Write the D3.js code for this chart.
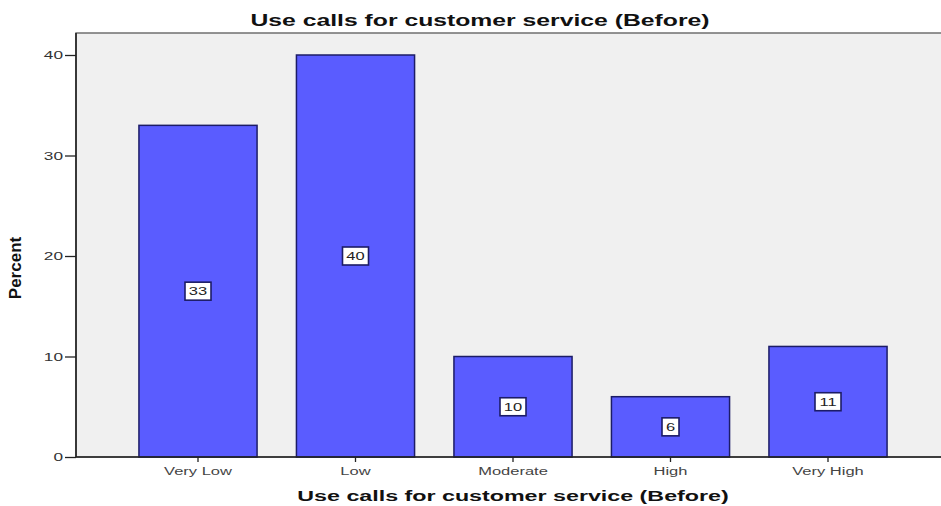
<!DOCTYPE html>
<html>
<head>
<meta charset="utf-8">
<script src="https://cdn.jsdelivr.net/npm/d3@7"></script>
<style>
  html, body { margin: 0; padding: 0; background: #fff; }
  svg { display: block; }
</style>
</head>
<body>
<svg id="chart" width="941" height="506"></svg>
<script>
// Percent of respondents by level of use
const categories = ["Very Low", "Low", "Moderate", "High", "Very High"];
const percents = [33, 40, 10, 6, 11];
const yTicks = [0, 10, 20, 30, 40];
const chartTitle = "Use calls for customer service (Before)";
const xTitle = "Use calls for customer service (Before)";
const yTitle = "Percent";

const svg = d3.select("#chart");
const plot = { left: 76, top: 33, right: 960, bottom: 457 };
const FONT = "Liberation Sans, Arial, sans-serif";
const SX = 1.5; // horizontal stretch applied to horizontal text

const x = d3.scaleBand()
  .domain(categories)
  .range([119.25, 906.75])
  .paddingInner(0.25)
  .paddingOuter(0.125);

const y = d3.scaleLinear()
  .domain([0, 40])
  .range([plot.bottom, 55]);

// plot background
svg.append("rect")
  .attr("x", plot.left).attr("y", plot.top)
  .attr("width", plot.right - plot.left).attr("height", plot.bottom - plot.top)
  .attr("fill", "#f0f0f0")
  .attr("stroke", "#666").attr("stroke-width", 1.4);

// bars
svg.append("g").selectAll("rect")
  .data(categories)
  .join("rect")
  .attr("x", d => x(d))
  .attr("y", (d, i) => y(percents[i]))
  .attr("width", x.bandwidth())
  .attr("height", (d, i) => y(0) - y(percents[i]))
  .attr("fill", "#5a5cff")
  .attr("stroke", "#1c1c66")
  .attr("stroke-width", 1.5);

// value labels
const lab = svg.append("g").selectAll("g")
  .data(categories)
  .join("g")
  .attr("transform", (d, i) => `translate(${x(d) + x.bandwidth() / 2},${y(percents[i] / 2)})`);
const boxW = v => String(v).length * 9 + 8;
lab.append("rect")
  .attr("x", (d, i) => -boxW(percents[i]) / 2)
  .attr("y", -9)
  .attr("width", (d, i) => boxW(percents[i]))
  .attr("height", 18)
  .attr("fill", "#fff")
  .attr("stroke", "#1c1c66")
  .attr("stroke-width", 1.6);
lab.append("text")
  .attr("text-anchor", "middle")
  .attr("dy", "0.36em")
  .attr("transform", `scale(${SX},1)`)
  .attr("font-family", FONT)
  .attr("font-size", 11)
  .attr("fill", "#222")
  .text((d, i) => percents[i]);

// y axis
const yAxis = svg.append("g")
  .attr("transform", `translate(${plot.left},0)`)
  .call(d3.axisLeft(y).tickValues(yTicks).tickSize(11));
yAxis.select(".domain").attr("stroke", "#222").attr("stroke-width", 1.6)
  .attr("d", `M0,${plot.top}V${plot.bottom}`);
yAxis.selectAll(".tick line").attr("stroke", "#222").attr("stroke-width", 1.3);
yAxis.selectAll(".tick text")
  .attr("x", -13 / SX)
  .attr("transform", `scale(${SX},1)`)
  .attr("font-family", FONT)
  .attr("font-size", 11.5).attr("fill", "#333");

// x axis
const xAxis = svg.append("g")
  .attr("transform", `translate(0,${plot.bottom})`)
  .call(d3.axisBottom(x).tickSize(5).tickPadding(5).tickSizeOuter(0));
xAxis.select(".domain").attr("stroke", "#222").attr("stroke-width", 1.6)
  .attr("d", `M${plot.left},0H${plot.right}`);
xAxis.selectAll(".tick line").attr("stroke", "#222").attr("stroke-width", 1.3);
xAxis.selectAll(".tick text")
  .attr("transform", `scale(${SX},1)`)
  .attr("font-family", FONT)
  .attr("font-size", 11).attr("fill", "#444");

// titles
svg.append("text")
  .attr("transform", `translate(480,25.5) scale(${SX},1)`)
  .attr("text-anchor", "middle")
  .attr("font-family", FONT)
  .attr("font-weight", "bold").attr("font-size", 16.5)
  .attr("fill", "#111")
  .text(chartTitle);

svg.append("text")
  .attr("transform", `translate(513,501) scale(${SX},1)`)
  .attr("text-anchor", "middle")
  .attr("font-family", FONT)
  .attr("font-weight", "bold").attr("font-size", 15.5)
  .attr("fill", "#111")
  .text(xTitle);

svg.append("text")
  .attr("transform", "translate(21,268) rotate(-90)")
  .attr("text-anchor", "middle")
  .attr("font-family", "Liberation Sans Narrow, Arial Narrow, sans-serif")
  .attr("font-weight", "bold").attr("font-size", 17)
  .attr("fill", "#111")
  .text(yTitle);
</script>
</body>
</html>
